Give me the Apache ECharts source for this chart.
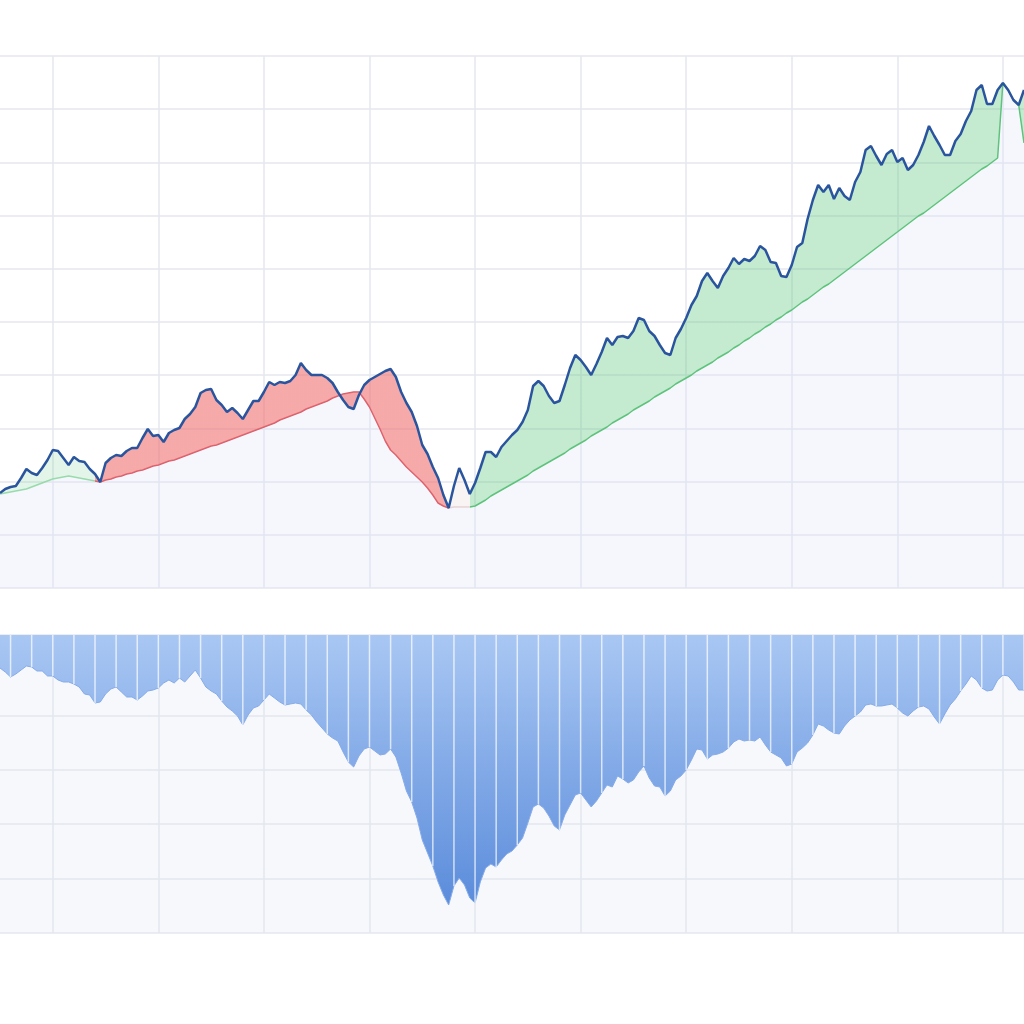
<!DOCTYPE html>
<html>
<head>
<meta charset="utf-8">
<script src="https://cdn.jsdelivr.net/npm/echarts@6.0.0/dist/echarts.min.js"></script>
<style>
  html, body { margin: 0; padding: 0; background: #ffffff; }
  #chart { width: 1024px; height: 1024px; }
</style>
</head>
<body>
<div id="chart"></div>
<script>
// price level
const price = [
  95, 99, 101, 102, 110, 119, 115, 113, 120, 128,
  138, 137, 130, 123, 131, 127, 126, 119, 114, 106,
  125, 130, 133, 132, 137, 140, 140, 150, 159, 152,
  153, 146, 155, 158, 160, 169, 174, 181, 195, 198,
  199, 188, 183, 176, 180, 175, 169, 178, 187, 187,
  196, 206, 203, 206, 205, 207, 213, 225, 218, 213,
  213, 213, 210, 205, 196, 188, 181, 179, 193, 203,
  208, 211, 214, 217, 219, 211, 196, 185, 176, 162,
  143, 134, 121, 110, 93, 80, 102, 120, 108, 94,
  105, 120, 136, 136, 131, 141, 147, 153, 158, 166,
  178, 202, 207, 202, 192, 185, 187, 203, 220, 233,
  228, 221, 213, 224, 236, 250, 243, 251, 252, 250,
  257, 270, 268, 257, 252, 243, 235, 233, 250, 259,
  270, 283, 292, 307, 315, 307, 300, 312, 320, 330,
  324, 329, 327, 332, 342, 338, 326, 325, 312, 311,
  323, 341, 345, 369, 388, 403, 396, 403, 389, 400,
  392, 388, 406, 416, 438, 442, 432, 423, 434, 438,
  426, 430, 418, 423, 433, 446, 462, 452, 443, 433,
  433, 447, 454, 467, 477, 498, 503, 484, 484, 498,
  505, 498, 488, 483, 498
];

// trend line the shaded band is measured from
const baseline = [
  94, 95, 96, 97, 98, 99, 101, 103, 105, 107,
  109, 110, 111, 112, 111, 110, 109, 108, 107, 106,
  108, 109, 111, 112, 114, 115, 117, 118, 120, 122,
  123, 125, 127, 128, 130, 132, 134, 136, 138, 140,
  142, 143, 145, 147, 149, 151, 153, 155, 157, 159,
  161, 163, 165, 168, 170, 172, 174, 176, 179, 181,
  183, 185, 187, 190, 192, 194, 195, 196, 196, 189,
  181, 170, 159, 147, 138, 133, 127, 121, 116, 111,
  106, 100, 93, 85, 82, 80, 81, 81, 81, 81,
  82, 85, 88, 92, 95, 98, 101, 104, 107, 110,
  113, 117, 120, 123, 126, 129, 132, 135, 139, 142,
  145, 148, 152, 155, 158, 161, 165, 168, 171, 174,
  178, 181, 184, 187, 191, 194, 197, 200, 204, 207,
  210, 213, 217, 220, 223, 226, 230, 233, 236, 240,
  243, 247, 250, 254, 257, 261, 264, 268, 271, 275,
  278, 282, 286, 289, 293, 297, 301, 304, 308, 312,
  316, 320, 324, 328, 332, 336, 340, 344, 348, 352,
  356, 360, 364, 368, 372, 375, 379, 383, 387, 391,
  395, 399, 403, 407, 411, 415, 419, 422, 426, 430,
  505, 498, 488, 483, 445
];

// drawdown, lower panel (hangs from zero at the top)
const drawdown = [
  -33, -37, -42, -39, -35, -31, -32, -36, -36, -41,
  -41, -45, -47, -47, -49, -52, -59, -60, -68, -67,
  -59, -54, -52, -57, -62, -62, -65, -61, -56, -55,
  -53, -48, -45, -48, -43, -47, -41, -35, -43, -52,
  -56, -59, -66, -72, -76, -81, -90, -80, -73, -71,
  -65, -59, -63, -67, -70, -69, -68, -69, -75, -80,
  -87, -93, -99, -103, -106, -117, -127, -132, -121, -114,
  -112, -116, -120, -119, -114, -122, -138, -156, -167, -183,
  -205, -218, -231, -247, -260, -270, -251, -243, -250, -263,
  -268, -247, -233, -229, -232, -225, -219, -216, -210, -203,
  -188, -172, -169, -173, -181, -191, -195, -180, -170, -160,
  -158, -165, -172, -166, -158, -150, -152, -141, -144, -148,
  -145, -137, -131, -143, -151, -152, -161, -156, -145, -141,
  -135, -125, -114, -115, -124, -120, -119, -117, -113, -107,
  -104, -106, -105, -106, -102, -110, -117, -120, -123, -131,
  -129, -117, -113, -108, -100, -89, -91, -95, -98, -99,
  -91, -85, -81, -77, -70, -69, -71, -71, -70, -69,
  -73, -78, -81, -76, -72, -71, -74, -82, -89, -79,
  -70, -64, -56, -49, -41, -45, -53, -56, -55, -45,
  -40, -41, -47, -55, -55
];

const categories = price.map((_, i) => 'P' + (i + 1));

// band between price and trend line, stacked on the trend line
const spread = price.map((v, i) => v - baseline[i]);
// thin white stripes inside the drawdown fill, every 4th point
const stripes = drawdown.map((v, i) => ((i - 2) % 4 === 0 ? v : '-'));

const greyLine = { show: true, lineStyle: { color: '#e4e7ef', width: 1.5 } };
const bare = {
  axisLine: { show: false },
  axisTick: { show: false },
  axisLabel: { show: false }
};
const majorTick = (i) => (i - 10) % 20 === 0;

const myChart = echarts.init(document.getElementById('chart'));
const option = {
  animation: false,
  backgroundColor: '#ffffff',
  grid: [
    { left: 0, right: 0, top: 56, height: 532 },
    { left: 0, right: 0, top: 635, height: 298, show: true, backgroundColor: '#f7f8fc', borderWidth: 0 }
  ],
  xAxis: [
    Object.assign({ type: 'category', gridIndex: 0, data: categories, boundaryGap: false,
      splitLine: Object.assign({ interval: majorTick }, greyLine) }, bare),
    Object.assign({ type: 'category', gridIndex: 1, data: categories, boundaryGap: false,
      splitLine: Object.assign({ interval: majorTick }, greyLine) }, bare)
  ],
  yAxis: [
    Object.assign({ type: 'value', gridIndex: 0, min: 0, max: 532, interval: 53.2, splitLine: greyLine }, bare),
    Object.assign({ type: 'value', gridIndex: 1, min: -298, max: 0, splitLine: { show: false } }, bare),
    Object.assign({ type: 'value', gridIndex: 1, min: 0, max: 5.48, interval: 1, splitLine: greyLine }, bare)
  ],
  visualMap: [
    {
      type: 'piecewise', show: false, dimension: 0, seriesIndex: 0,
      pieces: [
        { lte: 18, color: '#9ddcb0' },
        { gt: 18, lte: 85, color: '#d65c6c' },
        { gt: 85, lte: 89, color: '#e8d4d4' },
        { gt: 89, color: '#5cc27a' }
      ]
    },
    {
      type: 'piecewise', show: false, dimension: 0, seriesIndex: 1,
      pieces: [
        { lte: 18, color: 'rgba(110,205,140,0.2)' },
        { gt: 18, lte: 85, color: 'rgba(240,112,112,0.6)' },
        { gt: 85, lte: 89, color: 'rgba(225,200,200,0.2)' },
        { gt: 89, color: 'rgba(100,200,130,0.38)' }
      ]
    }
  ],
  series: [
    {
      name: 'trend',
      type: 'line',
      xAxisIndex: 0,
      yAxisIndex: 0,
      data: baseline,
      stack: 'band',
      stackStrategy: 'all',
      symbol: 'none',
      lineStyle: { width: 1.5 },
      areaStyle: { color: 'rgba(224,228,247,0.4)' },
      z: 2
    },
    {
      name: 'spread',
      type: 'line',
      xAxisIndex: 0,
      yAxisIndex: 0,
      data: spread,
      stack: 'band',
      stackStrategy: 'all',
      symbol: 'none',
      lineStyle: { width: 0 },
      areaStyle: { opacity: 1 },
      z: 3
    },
    {
      name: 'price',
      type: 'line',
      xAxisIndex: 0,
      yAxisIndex: 0,
      data: price,
      symbol: 'none',
      lineStyle: { color: '#2a559e', width: 2.5 },
      z: 4
    },
    {
      name: 'drawdown',
      type: 'line',
      xAxisIndex: 1,
      yAxisIndex: 1,
      data: drawdown,
      symbol: 'none',
      lineStyle: { color: '#86abe8', width: 1 },
      areaStyle: {
        opacity: 1,
        color: new echarts.graphic.LinearGradient(0, 0, 0, 1, [
          { offset: 0, color: '#a9c7f3' },
          { offset: 1, color: '#5b8cdb' }
        ])
      },
      z: 2
    },
    {
      name: 'stripes',
      type: 'bar',
      xAxisIndex: 1,
      yAxisIndex: 1,
      data: stripes,
      barWidth: 1.5,
      itemStyle: { color: 'rgba(255,255,255,0.7)' },
      silent: true,
      z: 3
    }
  ]
};
myChart.setOption(option);
window.addEventListener('resize', () => myChart.resize());
</script>
</body>
</html>
